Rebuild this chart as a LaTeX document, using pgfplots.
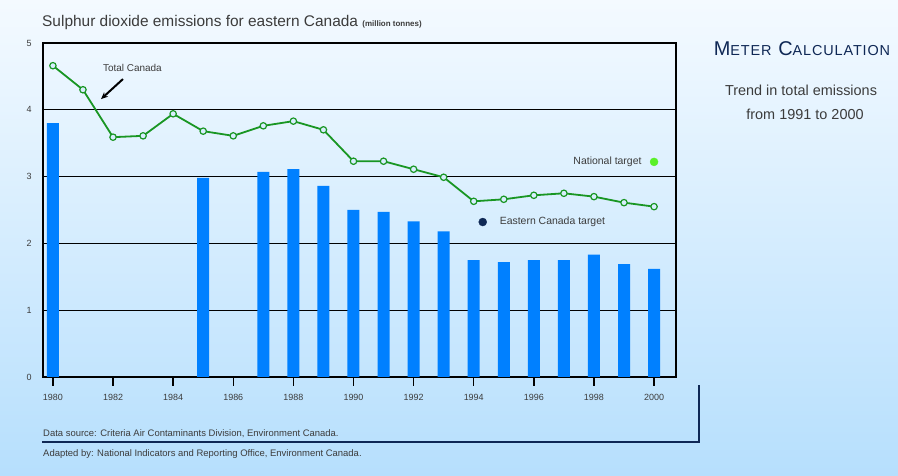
\documentclass[border=0pt]{standalone}
\usepackage{pgfplots}
\pgfplotsset{compat=1.18}
\usetikzlibrary{arrows.meta}
\usepackage{fontspec}
\setmainfont{Liberation Sans}
\newfontfamily\scfont{Liberation Sans}[LetterSpace=6]
\definecolor{bgtop}{RGB}{244,250,255}
\definecolor{bgbot}{RGB}{182,223,253}
\definecolor{barblue}{RGB}{0,128,255}
\definecolor{linegreen}{RGB}{25,150,35}
\definecolor{navy}{RGB}{15,40,85}
\definecolor{txtgray}{RGB}{60,60,60}
\definecolor{natgreen}{RGB}{90,240,40}
\begin{document}
\begin{tikzpicture}[x=1bp,y=1bp]
\shade[top color=bgtop, bottom color=bgbot] (0,0) rectangle (898,476);
\draw[navy, line width=1.5bp] (42,34) -- (699,34) -- (699,91);
\node[anchor=base west, text=txtgray, inner sep=0] at (42,449)
  {\fontsize{15.5}{15.5}\selectfont Sulphur dioxide emissions for eastern Canada {\fontsize{8}{8}\selectfont\bfseries (million tonnes)}};
\node[anchor=base, text=navy, inner sep=0] at (802,420)
  {\scfont\fontsize{20}{20}\selectfont M{\fontsize{14.5}{14.5}\selectfont ETER} C{\fontsize{14.5}{14.5}\selectfont ALCULATION}};
\node[anchor=base, text=txtgray, inner sep=0] at (801,380) {\fontsize{14.5}{14.5}\selectfont Trend in total emissions};
\node[anchor=base, text=txtgray, inner sep=0] at (805,356) {\fontsize{14.5}{14.5}\selectfont from 1991 to 2000};
\node[anchor=base west, text=txtgray, inner sep=0] at (43,39) {\fontsize{9.5}{9.5}\selectfont Data source: Criteria Air Contaminants Division, Environment Canada.};
\node[anchor=base west, text=txtgray, inner sep=0] at (43,19) {\fontsize{9.5}{9.5}\selectfont Adapted by: National Indicators and Reporting Office, Environment Canada.};
\begin{axis}[
  at={(43bp,99bp)}, anchor=south west, scale only axis,
  width=633bp, height=334bp,
  xmin=1979.67, xmax=2000.73, ymin=0, ymax=5,
  axis line style={black, line width=1.6bp},
  xtick={1980,1982,...,2000}, ytick={0,1,2,3,4,5},
  /pgf/number format/assume math mode=true,
  /pgf/number format/1000 sep={},
  scaled x ticks=false,
  tick align=outside, major tick length=9bp,
  xtick style={black, line width=1.4bp},
  ytick style={draw=none},
  xtick pos=bottom, ytick pos=left,
  ymajorgrids, grid style={black, line width=1.3bp},
  ticklabel style={font=\fontsize{9}{9}\selectfont, text=txtgray},
  xticklabel style={yshift=-5bp},
  yticklabel style={xshift=1bp},
  clip=false,
]
\addplot[ybar, bar width=12bp, fill=barblue, draw=none] coordinates {
 (1980,3.80) (1985,2.98) (1987,3.07) (1988,3.11) (1989,2.86) (1990,2.50)
 (1991,2.47) (1992,2.33) (1993,2.18) (1994,1.75) (1995,1.72) (1996,1.75)
 (1997,1.75) (1998,1.83) (1999,1.69) (2000,1.62)};
\addplot[linegreen, line width=1.8bp, mark=*, mark size=3.2bp,
  mark options={fill=bgtop!55!bgbot, draw=linegreen, line width=1.2bp}] coordinates {
 (1980,4.66) (1981,4.30) (1982,3.59) (1983,3.61) (1984,3.94) (1985,3.68)
 (1986,3.61) (1987,3.76) (1988,3.83) (1989,3.70) (1990,3.23) (1991,3.23)
 (1992,3.11) (1993,2.99) (1994,2.63) (1995,2.66) (1996,2.72) (1997,2.75)
 (1998,2.70) (1999,2.61) (2000,2.55)};
\addplot[only marks, mark=*, mark size=4bp, natgreen] coordinates {(2000,3.22)};
\addplot[only marks, mark=*, mark size=4bp, navy] coordinates {(1994.3,2.32)};
\node[anchor=east, text=txtgray, font=\fontsize{10.5}{10.5}\selectfont] at (axis cs:1999.7,3.22) {National target};
\node[anchor=west, text=txtgray, font=\fontsize{10.5}{10.5}\selectfont] at (axis cs:1994.75,2.32) {Eastern Canada target};
\node[anchor=west, text=txtgray, font=\fontsize{10}{10}\selectfont] at (axis cs:1981.55,4.63) {Total Canada};
\draw[-{Stealth[length=7bp,width=6bp]}, line width=2bp, black] (axis cs:1982.33,4.46) -- (axis cs:1981.6,4.16);
\end{axis}
\end{tikzpicture}
\end{document}
